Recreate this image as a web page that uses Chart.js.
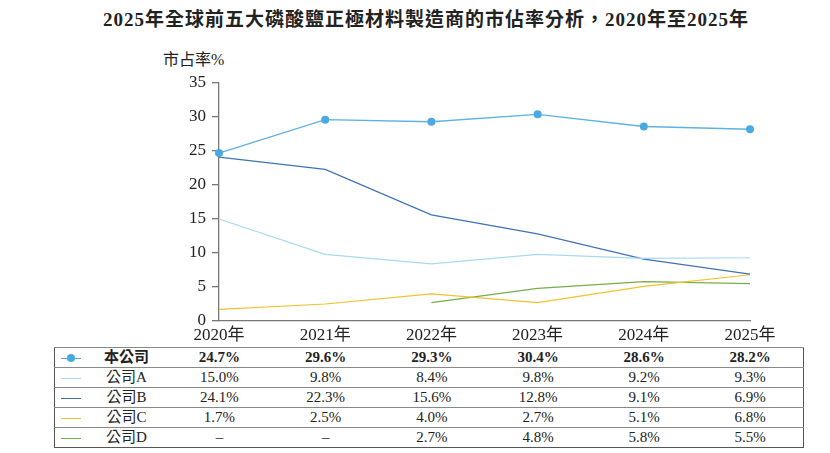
<!doctype html>
<html lang="zh-Hant">
<head>
<meta charset="utf-8">
<script src="https://cdn.jsdelivr.net/npm/chart.js"></script>
<title>市佔率分析</title>
<style>
    body { margin: 0; background: #fff; width: 830px; height: 453px; position: relative; overflow: hidden;
           font-family: "Liberation Serif", "Noto Sans CJK TC", serif; color: #222; }
    #judul { position: absolute; top: 4px; left: 0; width: 852px; text-align: center;
             font-size: 19px; font-weight: bold; letter-spacing: 1px; }
    #satuan { position: absolute; top: 46px; left: 163px; font-size: 16px; }
    #wadah { position: absolute; left: 0; top: 0; }
    #tabel { position: absolute; left: 54px; top: 347px; border-collapse: collapse;
             border: 1.5px solid #555; font-size: 15px; table-layout: fixed; }
    #tabel td { height: 19px; line-height: 19px; padding: 0; text-align: center; border-top: 1px solid #888; white-space: nowrap; overflow: hidden; }
    #tabel tr.tebal td { font-weight: bold; }
    .penanda { display: inline-block; width: 20px; height: 0; border-top: 1.5px solid; position: relative; vertical-align: middle; }
    .titik { position: absolute; left: 6px; top: -4.75px; width: 8px; height: 8px; border-radius: 50%; }
</style>
</head>
<body>
    <div id="judul">2025年全球前五大磷酸鹽正極材料製造商的市佔率分析，2020年至2025年</div>
    <div id="satuan">市占率%</div>
    <canvas id="wadah" width="830" height="345"></canvas>
    <table id="tabel"><colgroup id="kolom"></colgroup><tbody id="isi"></tbody></table>
<script>
    // data
    var tahun = ['2020年', '2021年', '2022年', '2023年', '2024年', '2025年'];
    var perusahaan = ['本公司', '公司A', '公司B', '公司C', '公司D'];
    var benGongsi = [24.7, 29.6, 29.3, 30.4, 28.6, 28.2];
    var gongsiA = [15.0, 9.8, 8.4, 9.8, 9.2, 9.3];
    var gongsiB = [24.1, 22.3, 15.6, 12.8, 9.1, 6.9];
    var gongsiC = [1.7, 2.5, 4.0, 2.7, 5.1, 6.8];
    var gongsiD = [null, null, 2.7, 4.8, 5.8, 5.5];
    var tickY = [0, 5, 10, 15, 20, 25, 30, 35];

    var warna = ['#4aa9e0', '#a9d9f2', '#3f73b5', '#f2c12e', '#78ad4c'];
    var semuaData = [benGongsi, gongsiA, gongsiB, gongsiC, gongsiD];

    var hurufSerif = "'Liberation Serif', 'Noto Sans CJK TC', serif";

    var datasets = semuaData.map(function (d, i) {
        return {
            label: perusahaan[i],
            data: d,
            borderColor: i == 0 ? '#5eb2e2' : warna[i],
            backgroundColor: warna[i],
            borderWidth: i == 0 ? 1.3 : 1.2,
            pointRadius: i == 0 ? 4 : 0,
            pointBorderWidth: 0,
            pointBackgroundColor: warna[i],
            pointHoverRadius: i == 0 ? 4 : 0,
            tension: 0,
            spanGaps: false,
            order: i == 0 ? 0 : 1   // 本公司 di atas
        };
    });

    var ctx = document.getElementById('wadah').getContext('2d');
    var grafik = new Chart(ctx, {
        type: 'line',
        data: { labels: tahun, datasets: datasets },
        options: {
            responsive: false,
            animation: false,
            devicePixelRatio: 1,
            layout: { padding: { top: 83, right: 80, left: 0, bottom: 0 } },
            plugins: { legend: { display: false }, tooltip: { enabled: false } },
            scales: {
                x: {
                    offset: false,
                    grid: { display: false, drawTicks: false },
                    border: { display: true, color: '#777', width: 1.3 },
                    ticks: { color: '#222', padding: 4, maxRotation: 0, font: { family: hurufSerif, size: 17 } },
                    afterFit: function (s) { s.height = 24; }
                },
                y: {
                    min: 0, max: 35,
                    afterBuildTicks: function (s) { s.ticks = tickY.map(function (v) { return { value: v }; }); },
                    grid: { drawOnChartArea: false, drawTicks: true, tickLength: 7, color: '#777', lineWidth: 1.3 },
                    border: { display: true, color: '#777', width: 1.3 },
                    ticks: { color: '#222', padding: 6, font: { family: hurufSerif, size: 17 } },
                    afterFit: function (s) { s.width = 219; }
                }
            }
        }
    });

    // tabel data, kolom mengikuti posisi skala x
    var sx = grafik.scales.x;
    var kiriTabel = 54, kananTabel = 803;
    var batas = [kiriTabel, 86];
    var tengah = tahun.map(function (t, i) { return sx.getPixelForValue(i); });
    var langkah = tengah[1] - tengah[0];
    batas.push(tengah[0] - langkah / 2);
    for (var i = 0; i < tahun.length; i++) batas.push(tengah[i] + langkah / 2);
    batas[batas.length - 1] = kananTabel;

    var kolom = document.getElementById('kolom');
    for (var k = 0; k < batas.length - 1; k++) {
        var c = document.createElement('col');
        c.style.width = (batas[k + 1] - batas[k]) + 'px';
        kolom.appendChild(c);
    }
    document.getElementById('tabel').style.width = (kananTabel - kiriTabel) + 'px';

    var isi = document.getElementById('isi');
    semuaData.forEach(function (d, i) {
        var tr = document.createElement('tr');
        if (i == 0) tr.className = 'tebal';
        var td = document.createElement('td');
        var garis = document.createElement('span');
        garis.className = 'penanda';
        garis.style.borderColor = warna[i];
        if (i == 0) {
            var t = document.createElement('span');
            t.className = 'titik';
            t.style.background = warna[i];
            garis.appendChild(t);
        }
        td.appendChild(garis);
        tr.appendChild(td);
        var nama = document.createElement('td');
        nama.textContent = perusahaan[i];
        tr.appendChild(nama);
        d.forEach(function (v) {
            var sel = document.createElement('td');
            sel.textContent = v === null ? '–' : v.toFixed(1) + '%';
            tr.appendChild(sel);
        });
        isi.appendChild(tr);
    });
</script>
</body>
</html>
